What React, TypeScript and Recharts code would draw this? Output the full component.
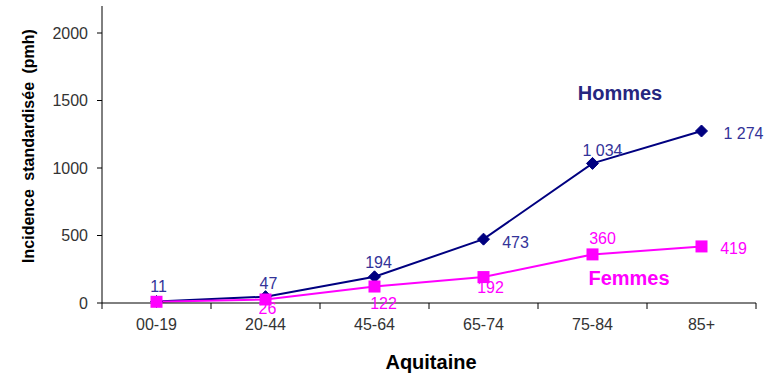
import React from 'react';
import { LineChart, Line, XAxis, YAxis, LabelList, Customized } from 'recharts';

// Age groups along the x axis
const CATEGORIES = ['00-19', '20-44', '45-64', '65-74', '75-84', '85+'];
// Standardised incidence (per million inhabitants)
const HOMMES = [11, 47, 194, 473, 1034, 1274];
const FEMMES = [9, 26, 122, 192, 360, 419];
const Y_TICKS = [0, 500, 1000, 1500, 2000];

// Where each value label sits relative to its point (text centre, px)
const HOMMES_LABEL_OFFSETS: ([number, number] | null)[] = [
  [2, -16], [3, -14], [4, -15], [32, 3], [10, -13], [42, 2],
];
const FEMMES_LABEL_OFFSETS: ([number, number] | null)[] = [
  null, [2, 9], [9, 16], [7, 10], [10, -16], [32, 2],
];

const NAVY = '#000080';
const NAVY_TEXT = '#333399';
const MAGENTA = '#FF00FF';
const FONT = '"Liberation Sans", Arial, sans-serif';

const data = CATEGORIES.map((category, i) => ({
  pos: i + 0.5,
  category,
  hommes: HOMMES[i],
  femmes: FEMMES[i],
}));

// Category boundaries carry tick marks, category centres carry the labels
const X_TICKS: number[] = [];
for (let i = 0; i <= CATEGORIES.length; i++) {
  X_TICKS.push(i);
  if (i < CATEGORIES.length) X_TICKS.push(i + 0.5);
}

const formatValue = (v: number) =>
  String(v).replace(/\B(?=(\d{3})+(?!\d))/g, ' ');

const XTick = (props: any) => {
  const { x, y, payload } = props;
  const v = payload.value as number;
  if (Number.isInteger(v)) {
    return <line x1={x} x2={x} y1={y} y2={y + 6} stroke="#000" strokeWidth={1} />;
  }
  return (
    <text x={x} y={y + 27} textAnchor="middle" fontSize={16} fontFamily={FONT} fill="#333">
      {CATEGORIES[Math.floor(v)]}
    </text>
  );
};

const Diamond = (props: any) => {
  const { cx, cy } = props;
  if (cx == null || cy == null) return null;
  const r = 6;
  return (
    <polygon
      points={`${cx},${cy - r} ${cx + r},${cy} ${cx},${cy + r} ${cx - r},${cy}`}
      fill={NAVY}
      stroke={NAVY}
    />
  );
};

const Square = (props: any) => {
  const { cx, cy } = props;
  if (cx == null || cy == null) return null;
  const h = 6;
  return <rect x={cx - h} y={cy - h} width={h * 2} height={h * 2} fill={MAGENTA} />;
};

const makeLabel = (offsets: ([number, number] | null)[], color: string) => (props: any) => {
  const { x, y, value, index } = props;
  const off = offsets[index];
  if (!off) return null;
  return (
    <text
      x={x + off[0]}
      y={y + off[1] + 6}
      textAnchor="middle"
      fontSize={16}
      fontFamily={FONT}
      fill={color}
    >
      {formatValue(value)}
    </text>
  );
};

const Annotations = () => (
  <g fontFamily={FONT}>
    <text
      transform="translate(34, 146) rotate(-90)"
      textAnchor="middle"
      fontSize={16}
      fontWeight="bold"
      fill="#000"
      style={{ wordSpacing: 4 }}
    >
      Incidence standardisée (pmh)
    </text>
    <text x={431} y={369} textAnchor="middle" fontSize={20} fontWeight="bold" fill="#000">
      Aquitaine
    </text>
    <text x={620} y={100} textAnchor="middle" fontSize={20} fontWeight="bold" fill="#26267F">
      Hommes
    </text>
    <text x={629} y={285} textAnchor="middle" fontSize={20} fontWeight="bold" fill={MAGENTA}>
      Femmes
    </text>
  </g>
);

export default function App() {
  return (
    <div style={{ position: 'absolute', left: 0, top: 0, background: '#fff' }}>
      <LineChart
        width={767}
        height={378}
        data={data}
        margin={{ top: 6, right: 11, bottom: 0, left: 0 }}
      >
        <XAxis
          dataKey="pos"
          type="number"
          domain={[0, CATEGORIES.length]}
          ticks={X_TICKS}
          interval={0}
          tick={<XTick />}
          tickLine={false}
          tickSize={0}
          tickMargin={0}
          axisLine={{ stroke: '#000', strokeWidth: 1 }}
          height={75}
        />
        <YAxis
          type="number"
          domain={[0, 2200]}
          ticks={Y_TICKS}
          interval={0}
          width={102}
          tickSize={5}
          tickMargin={9}
          tickLine={{ stroke: '#000' }}
          axisLine={{ stroke: '#000', strokeWidth: 1 }}
          tick={{ fontSize: 16, fontFamily: FONT, fill: '#333' }}
        />
        <Line
          dataKey="hommes"
          stroke={NAVY}
          strokeWidth={2}
          dot={<Diamond />}
          activeDot={false}
          isAnimationActive={false}
        >
          <LabelList dataKey="hommes" content={makeLabel(HOMMES_LABEL_OFFSETS, NAVY_TEXT)} />
        </Line>
        <Line
          dataKey="femmes"
          stroke={MAGENTA}
          strokeWidth={2}
          dot={<Square />}
          activeDot={false}
          isAnimationActive={false}
        >
          <LabelList dataKey="femmes" content={makeLabel(FEMMES_LABEL_OFFSETS, MAGENTA)} />
        </Line>
        <Customized component={Annotations} />
      </LineChart>
    </div>
  );
}
